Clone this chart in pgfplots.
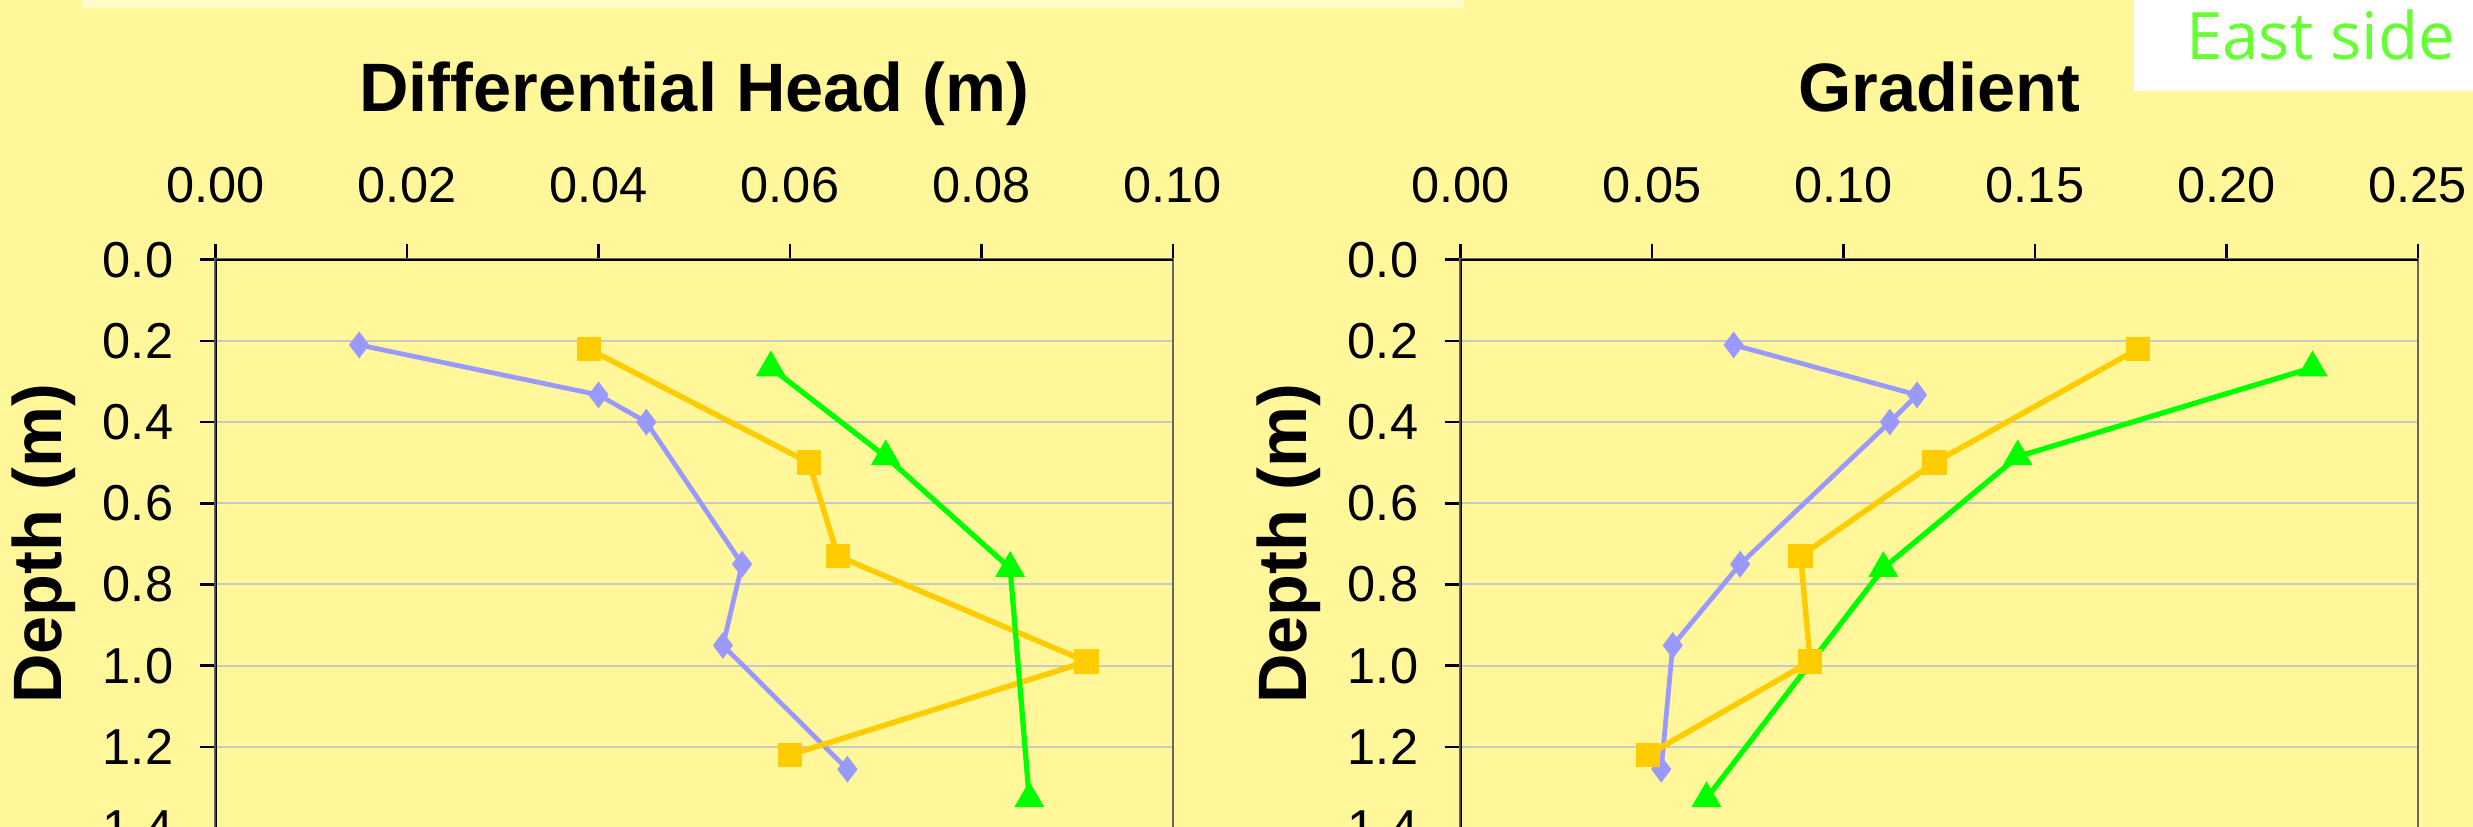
\documentclass[border=0pt]{standalone}
\usepackage{pgfplots}
\pgfplotsset{compat=1.18}
\usepackage{fontspec}
\setmainfont{Liberation Sans}
\newfontfamily\eastfont{Open Sans}
\definecolor{bg}{HTML}{FFF799}
\definecolor{strip}{HTML}{FFFCC8}
\definecolor{cblue}{HTML}{9999FF}
\definecolor{corange}{HTML}{FFCC00}
\definecolor{cgreen}{HTML}{00FF00}
\definecolor{eastgreen}{HTML}{66FF33}
\definecolor{gridc}{HTML}{C8C8C8}

\pgfplotsset{
  depthaxis/.style={
    scale only axis, width=191.45pt, height=113.68pt, anchor=north west,
    y dir=reverse, ymin=0, ymax=1.4, ytick={0,0.2,0.4,0.6,0.8,1.0,1.2,1.4},
    ymajorgrids, major grid style={gridc, line width=0.4pt},
    xtick pos=right, xticklabel pos=right, ytick pos=left,
    tick align=outside, major tick length=3.2pt,
    tick style={black, line width=0.5pt},
    axis line style={draw=black!60, line width=0.5pt},
    /pgf/number format/assume math mode=true,
    ticklabel style={font=\fontsize{10.1}{12}\selectfont, inner sep=0pt},
    xticklabel style={anchor=base, yshift=8.2pt},
    yticklabel style={anchor=east, xshift=-5.1pt, /pgf/number format/.cd, fixed, fixed zerofill, precision=1},
    scaled x ticks=false,
    title style={at={(0.5,1)}, anchor=base, yshift=23.6pt, font=\fontsize{13.7}{16}\selectfont\bfseries},
    ylabel={Depth (m)},
    ylabel style={at={(axis description cs:-0.1609,0.5)}, anchor=base, font=\fontsize{13.7}{16}\selectfont\bfseries},
    blueplot/.style={cblue, line width=0.95pt, mark=diamond*, mark size=1.9pt, mark options={solid, fill=cblue, draw=cblue}},
    orangeplot/.style={corange, line width=1.1pt, mark=square*, mark size=1.9pt, mark options={solid, fill=corange, draw=corange}},
    greenplot/.style={cgreen, line width=1.05pt, mark=triangle*, mark size=2.4pt, mark options={solid, fill=cgreen, draw=cgreen}},
  }
}

\begin{document}
\begin{tikzpicture}[x=1pt,y=1pt]
\path[use as bounding box] (0,0) rectangle (494.6,165.4);
\clip (0,0) rectangle (494.6,165.4);
\fill[bg] (0,0) rectangle (494.6,165.4);
\fill[strip] (16.4,163.8) rectangle (292.8,165.4);
\fill[white] (426.8,147.26) rectangle (494.6,165.4);
\node[anchor=base west, inner sep=0pt, text=eastgreen, font=\eastfont\fontsize{13.1}{15}\selectfont] at (437,153.4) {East side};

\begin{axis}[depthaxis, at={(43.12pt,113.46pt)},
  title={Differential Head (m)},
  xmin=0, xmax=0.10, xtick={0,0.02,0.04,0.06,0.08,0.10},
  xticklabel style={/pgf/number format/.cd, fixed, fixed zerofill, precision=2}]
\draw[black, line width=0.5pt] (axis cs:0,1.4) -- (axis cs:0,0) -- (axis cs:0.10,0);
\addplot[blueplot] coordinates {(0.015,0.21) (0.040,0.333) (0.045,0.40) (0.055,0.75) (0.053,0.95) (0.066,1.255)};
\addplot[orangeplot] coordinates {(0.039,0.22) (0.062,0.50) (0.065,0.73) (0.091,0.99) (0.060,1.22)};
\addplot[greenplot] coordinates {(0.058,0.266) (0.070,0.485) (0.083,0.76) (0.085,1.327)};
\end{axis}

\begin{axis}[depthaxis, at={(292.12pt,113.46pt)},
  title={Gradient},
  xmin=0, xmax=0.25, xtick={0,0.05,0.10,0.15,0.20,0.25},
  xticklabel style={/pgf/number format/.cd, fixed, fixed zerofill, precision=2}]
\draw[black, line width=0.5pt] (axis cs:0,1.4) -- (axis cs:0,0) -- (axis cs:0.25,0);
\addplot[blueplot] coordinates {(0.0713,0.21) (0.1192,0.333) (0.1121,0.40) (0.0730,0.75) (0.0554,0.95) (0.0524,1.255)};
\addplot[orangeplot] coordinates {(0.1769,0.22) (0.1237,0.50) (0.0888,0.73) (0.0913,0.99) (0.0489,1.22)};
\addplot[greenplot] coordinates {(0.2225,0.266) (0.1455,0.485) (0.1104,0.76) (0.0642,1.327)};
\end{axis}
\end{tikzpicture}
\end{document}
